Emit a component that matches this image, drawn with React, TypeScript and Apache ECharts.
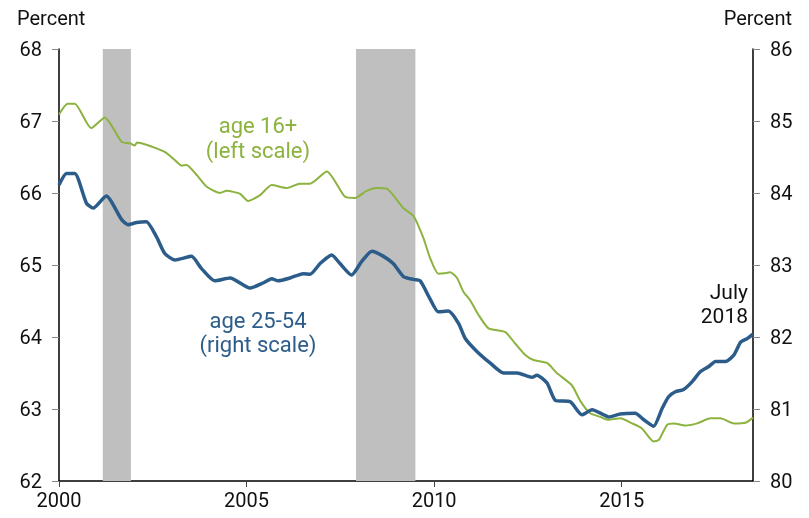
import React, { useEffect, useRef } from "react";
import * as echarts from "echarts";

const years16 = [2000.0, 2000.23, 2000.42, 2000.86, 2001.22, 2001.67, 2001.89, 2002.02, 2002.08, 2002.33, 2002.6, 2002.82, 2003.04, 2003.27, 2003.4, 2003.67, 2003.93, 2004.29, 2004.47, 2004.82, 2005.04, 2005.36, 2005.67, 2006.07, 2006.42, 2006.69, 2007.14, 2007.62, 2007.89, 2008.2, 2008.47, 2008.74, 2009.18, 2009.45, 2009.71, 2009.89, 2010.11, 2010.34, 2010.43, 2010.61, 2010.78, 2010.96, 2011.18, 2011.45, 2011.89, 2012.16, 2012.43, 2012.65, 2013.01, 2013.27, 2013.67, 2013.9, 2014.16, 2014.43, 2014.65, 2014.96, 2015.28, 2015.54, 2015.85, 2015.99, 2016.21, 2016.39, 2016.7, 2017.01, 2017.37, 2017.63, 2017.99, 2018.3, 2018.5];
const values16 = [67.09, 67.24, 67.24, 66.9, 67.05, 66.71, 66.69, 66.66, 66.7, 66.67, 66.62, 66.57, 66.48, 66.38, 66.39, 66.25, 66.09, 66.0, 66.03, 65.99, 65.89, 65.97, 66.11, 66.07, 66.13, 66.13, 66.3, 65.95, 65.93, 66.03, 66.07, 66.06, 65.79, 65.68, 65.38, 65.1, 64.88, 64.89, 64.9, 64.82, 64.63, 64.51, 64.31, 64.12, 64.07, 63.91, 63.75, 63.68, 63.64, 63.5, 63.33, 63.11, 62.94, 62.89, 62.85, 62.87, 62.8, 62.73, 62.55, 62.57, 62.78, 62.8, 62.77, 62.8, 62.87, 62.87, 62.8, 62.81, 62.88];

const years2554 = [2000.0, 2000.2, 2000.42, 2000.73, 2000.91, 2001.26, 2001.67, 2001.84, 2002.07, 2002.33, 2002.6, 2002.82, 2003.09, 2003.53, 2003.8, 2004.15, 2004.56, 2005.09, 2005.44, 2005.67, 2005.84, 2006.16, 2006.51, 2006.69, 2006.96, 2007.27, 2007.49, 2007.8, 2008.07, 2008.34, 2008.65, 2008.91, 2009.18, 2009.45, 2009.63, 2009.89, 2010.11, 2010.38, 2010.65, 2010.83, 2011.14, 2011.49, 2011.85, 2012.21, 2012.61, 2012.74, 2013.01, 2013.23, 2013.63, 2013.94, 2014.21, 2014.52, 2014.65, 2014.96, 2015.36, 2015.59, 2015.85, 2016.08, 2016.25, 2016.43, 2016.65, 2016.88, 2017.1, 2017.32, 2017.5, 2017.77, 2017.99, 2018.17, 2018.35, 2018.5];
const values2554 = [84.11, 84.27, 84.27, 83.86, 83.79, 83.96, 83.63, 83.56, 83.59, 83.6, 83.39, 83.16, 83.07, 83.12, 82.95, 82.78, 82.82, 82.68, 82.75, 82.81, 82.78, 82.82, 82.88, 82.87, 83.02, 83.14, 83.02, 82.86, 83.05, 83.19, 83.12, 83.02, 82.84, 82.8, 82.78, 82.53, 82.35, 82.36, 82.19, 81.98, 81.8, 81.64, 81.5, 81.5, 81.44, 81.47, 81.36, 81.12, 81.1, 80.92, 80.99, 80.92, 80.89, 80.93, 80.94, 80.85, 80.76, 81.01, 81.17, 81.24, 81.27, 81.38, 81.52, 81.59, 81.66, 81.66, 81.75, 81.93, 81.98, 82.04];

const recessions = [
  [2001.167, 2001.917],
  [2007.917, 2009.5],
];

const leftTicks = { min: 62, max: 68, interval: 1 };
const rightTicks = { min: 80, max: 86, interval: 1 };

const GREEN = "#8cb23f";
const BLUE = "#2c5d8a";
const FONT = "Roboto";

export default function App() {
  const ref = useRef<HTMLDivElement>(null);
  useEffect(() => {
    if (!ref.current) return;
    const chart = echarts.init(ref.current, null, { renderer: "svg" });
    const zip = (xs: number[], ys: number[]) => xs.map((x, i) => [x, ys[i]]);
    const label = (text: string, x: number, y: number, fill: string, align: string, size: number) => ({
      type: "text",
      x,
      y,
      style: { text, fontSize: size, fontFamily: FONT, fill, align, verticalAlign: "middle" },
    });
    chart.setOption({
      animation: false,
      textStyle: { fontFamily: FONT },
      grid: { left: 59, right: 56, top: 49, bottom: 37, containLabel: false },
      xAxis: {
        type: "value",
        min: 2000,
        max: 2018.5,
        interval: 5,
        axisLine: { show: true, lineStyle: { color: "#000", width: 1.5 } },
        axisTick: { show: true, length: 6, lineStyle: { color: "#444" } },
        axisLabel: {
          color: "#111",
          fontSize: 20,
          fontFamily: FONT,
          margin: 9,
          showMaxLabel: false,
          formatter: (v: number) => String(v),
        },
        splitLine: { show: false },
      },
      yAxis: [
        {
          type: "value",
          position: "left",
          ...leftTicks,
          axisLine: { show: true, lineStyle: { color: "#000", width: 1.5 } },
          axisTick: { show: true, length: 7, lineStyle: { color: "#888" } },
          axisLabel: { color: "#111", fontSize: 20, fontFamily: FONT, margin: 17 },
          splitLine: { show: false },
        },
        {
          type: "value",
          position: "right",
          ...rightTicks,
          axisLine: { show: true, lineStyle: { color: "#000", width: 1.5 } },
          axisTick: { show: true, length: 7, lineStyle: { color: "#888" } },
          axisLabel: { color: "#111", fontSize: 20, fontFamily: FONT, margin: 17 },
          splitLine: { show: false },
        },
      ],
      graphic: [
        { type: "text", left: 17, top: 8, style: { text: "Percent", fontSize: 20, fontFamily: FONT, fill: "#111" } },
        { type: "text", right: 17, top: 8, style: { text: "Percent", fontSize: 20, fontFamily: FONT, fill: "#111" } },
        label("age 16+", 258, 125, GREEN, "center", 22),
        label("(left scale)", 258, 150, GREEN, "center", 22),
        label("age 25-54", 258, 320, BLUE, "center", 22),
        label("(right scale)", 258, 344, BLUE, "center", 22),
        label("July", 748, 292, "#111", "right", 21),
        label("2018", 748, 316, "#111", "right", 21),
      ],
      series: [
        {
          type: "line",
          z: 1,
          data: [[2001.167, 62]],
          symbol: "none",
          lineStyle: { opacity: 0 },
          silent: true,
          markArea: {
            silent: true,
            itemStyle: { color: "#bfbfbf" },
            data: recessions.map(([a, b]) => [{ xAxis: a }, { xAxis: b }]),
          },
        },
        {
          type: "line",
          z: 3,
          yAxisIndex: 0,
          data: zip(years16, values16),
          symbol: "none",
          smooth: 0.2,
          lineStyle: { color: GREEN, width: 2 },
        },
        {
          type: "line",
          z: 4,
          yAxisIndex: 1,
          data: zip(years2554, values2554),
          symbol: "none",
          smooth: 0.2,
          lineStyle: { color: BLUE, width: 3.5 },
        },
      ],
    });
    return () => chart.dispose();
  }, []);
  return <div ref={ref} style={{ position: "fixed", left: 0, top: 0, width: 809, height: 518 }} />;
}
